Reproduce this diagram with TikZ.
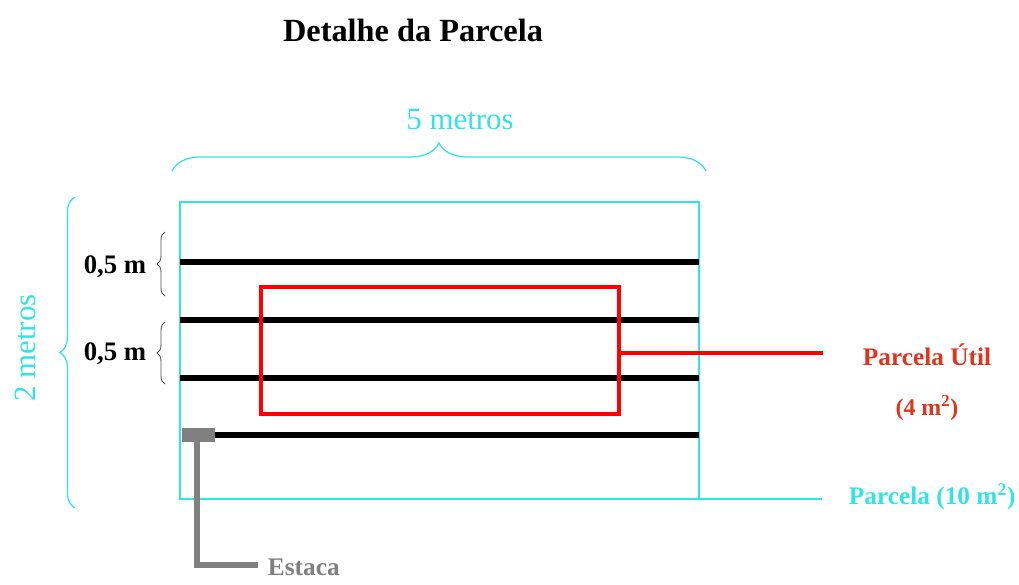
\documentclass[tikz,border=0pt]{standalone}
\usepackage{fontspec}
\setmainfont{Liberation Serif}
\usetikzlibrary{decorations.pathreplacing}
\definecolor{ciano}{RGB}{51,228,228}
\definecolor{vermelho}{RGB}{224,52,28}
\definecolor{cinza}{RGB}{128,128,128}

\begin{document}
\begin{tikzpicture}[x=0.025cm, y=-0.025cm,
        chave/.style={decorate, decoration={brace, amplitude=#1}},
        fileira/.style={line width=3.6pt}]
    \useasboundingbox (0,0) rectangle (1019,585);
    \node[font=\bfseries\fontsize{23}{27}\selectfont] (titulo) at (413,30) {Detalhe da Parcela};
    % parcela total
    \draw[ciano, line width=1.6pt] (180,202) rectangle (699,499);
    \coordinate (canto) at (699,499);
    \coordinate (fimparcela) at (822,499);
    \draw[ciano, line width=1.6pt] (canto) -- (fimparcela);
    \node[ciano, anchor=west, font=\bfseries\fontsize{18}{21}\selectfont] (parcela) at (844,497) {Parcela (10 m\textsuperscript{2})};
    % fileiras
    \foreach \y in {262,320,378}
        \draw[fileira] (180,\y) -- (699,\y);
    \draw[fileira] (215,435) -- (699,435);
    % parcela util
    \draw[red, line width=3.2pt] (261,287) rectangle (619,414);
    \coordinate (saida) at (619,353);
    \coordinate (fimutil) at (823,353);
    \draw[red, line width=3.5pt] (saida) -- (fimutil);
    \node[vermelho, font=\bfseries\fontsize{18}{21}\selectfont] (util) at (927,355) {Parcela Útil};
    \node[vermelho, font=\bfseries\fontsize{17}{20}\selectfont] (area) at (927,408) {(4 m\textsuperscript{2})};
    % estaca
    \fill[cinza] (182,428) rectangle (215,442);
    \draw[cinza, line width=4pt] (197,442) -- (197,565) -- (258,565);
    \node[cinza, anchor=west, font=\bfseries\fontsize{18}{21}\selectfont] (estaca) at (263,567) {Estaca};
    % chaves
    \draw[ciano, line width=0.9pt, chave=0.7cm] (172,171) -- (706,171);
    \node[ciano, font=\fontsize{22}{26}\selectfont] (cinco) at (460,120) {5 metros};
    \draw[ciano, line width=0.9pt, chave=0.38cm] (75,508) -- (75,197);
    \node[ciano, rotate=90, font=\fontsize{22}{26}\selectfont] (dois) at (25,348) {2 metros};
    \draw[black!70, line width=0.6pt, chave=0.2cm] (165,296) -- (165,232);
    \draw[black!70, line width=0.6pt, chave=0.2cm] (165,384) -- (165,322);
    \node[font=\bfseries\fontsize{19}{22}\selectfont] (meio1) at (115,267) {0,5 m};
    \node[font=\bfseries\fontsize{19}{22}\selectfont] (meio2) at (115,354) {0,5 m};
\end{tikzpicture}
\end{document}
